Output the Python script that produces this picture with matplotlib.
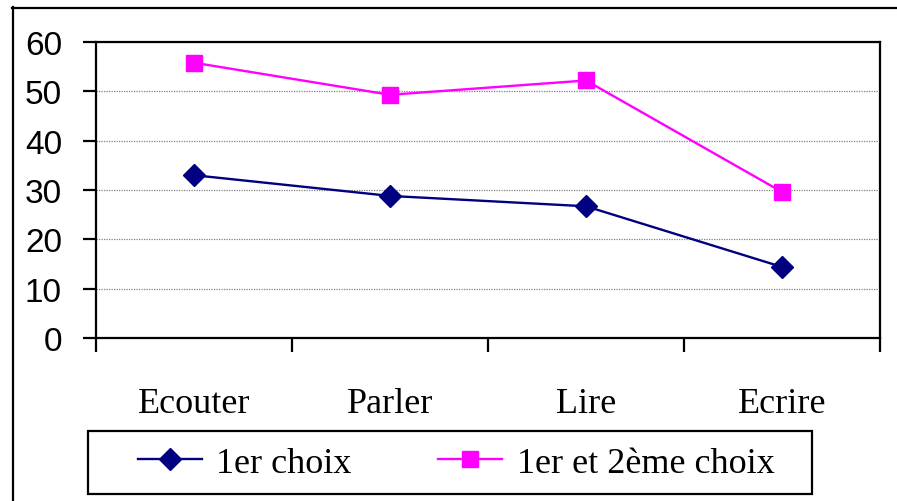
import matplotlib
matplotlib.use("Agg")
import matplotlib.pyplot as plt
from matplotlib.patches import Rectangle
from matplotlib.lines import Line2D

# data
categories = ["Ecouter", "Parler", "Lire", "Ecrire"]
choix_1 = [33.0, 28.8, 26.7, 14.4]
choix_1_2 = [55.8, 49.3, 52.2, 29.6]
series_labels = ["1er choix", "1er et 2ème choix"]
y_ticks = [0, 10, 20, 30, 40, 50, 60]

W, H = 897, 502
fig = plt.figure(figsize=(W / 100, H / 100), dpi=100)
fig.patch.set_facecolor("white")

# plot area in pixel coords of the reference
left, right, top, bottom = 96, 880, 43, 339
ax = fig.add_axes([left / W, 1 - bottom / H, (right - left) / W, (bottom - top) / H])

x = list(range(len(categories)))
ax.plot(x, choix_1, color="#000080", lw=1.7, marker="D", markersize=11.5,
        markeredgecolor="#000080", markerfacecolor="#000080", label=series_labels[0])
ax.plot(x, choix_1_2, color="#FF00FF", lw=1.7, marker="s", markersize=12,
        markeredgecolor="#FF00FF", markerfacecolor="#FF00FF", label=series_labels[1])

ax.set_xlim(-0.5, len(categories) - 0.5)
ax.set_ylim(0, 60)
ax.set_yticks(y_ticks)
ax.set_yticklabels([str(v) for v in y_ticks], family="Liberation Sans", fontsize=24)

# category boundary ticks (major, no labels) and centred labels (minor)
ax.set_xticks([i - 0.5 for i in range(len(categories) + 1)])
ax.set_xticklabels([])
ax.set_xticks(x, minor=True)
ax.set_xticklabels(categories, minor=True, family="Liberation Serif", fontsize=26)
ax.tick_params(axis="x", which="major", direction="out", length=10, width=1.6, color="black")
ax.tick_params(axis="x", which="minor", length=0, pad=35)
ax.tick_params(axis="y", direction="out", length=9.5, width=1.6, pad=15)

ax.grid(axis="y", color="#808080", linestyle=(0, (1, 1)), lw=0.9)
ax.set_axisbelow(True)
for s in ax.spines.values():
    s.set_linewidth(1.6)
    s.set_color("black")

# outer chart frame (right and bottom edges fall outside the picture)
fig.add_artist(Line2D([12.5 / W, 12.5 / W], [0, 1 - 8 / H], transform=fig.transFigure,
                      color="black", lw=1.6))
fig.add_artist(Line2D([12 / W, 1], [1 - 8.5 / H, 1 - 8.5 / H], transform=fig.transFigure,
                      color="black", lw=1.6))

# legend box
fig.add_artist(Rectangle((88 / W, 1 - 495 / H), (812 - 88) / W, (495 - 432) / H,
                         transform=fig.transFigure, fill=False, edgecolor="black", lw=1.6))
leg = fig.legend(loc="center left", bbox_to_anchor=(138 / W, 1 - 464 / H), ncol=2,
                 frameon=False, borderpad=0, borderaxespad=0, handlelength=1.77,
                 handletextpad=0.4, columnspacing=2.4,
                 prop={"family": "Liberation Serif", "size": 26})

fig.savefig("out.png", dpi=100)
